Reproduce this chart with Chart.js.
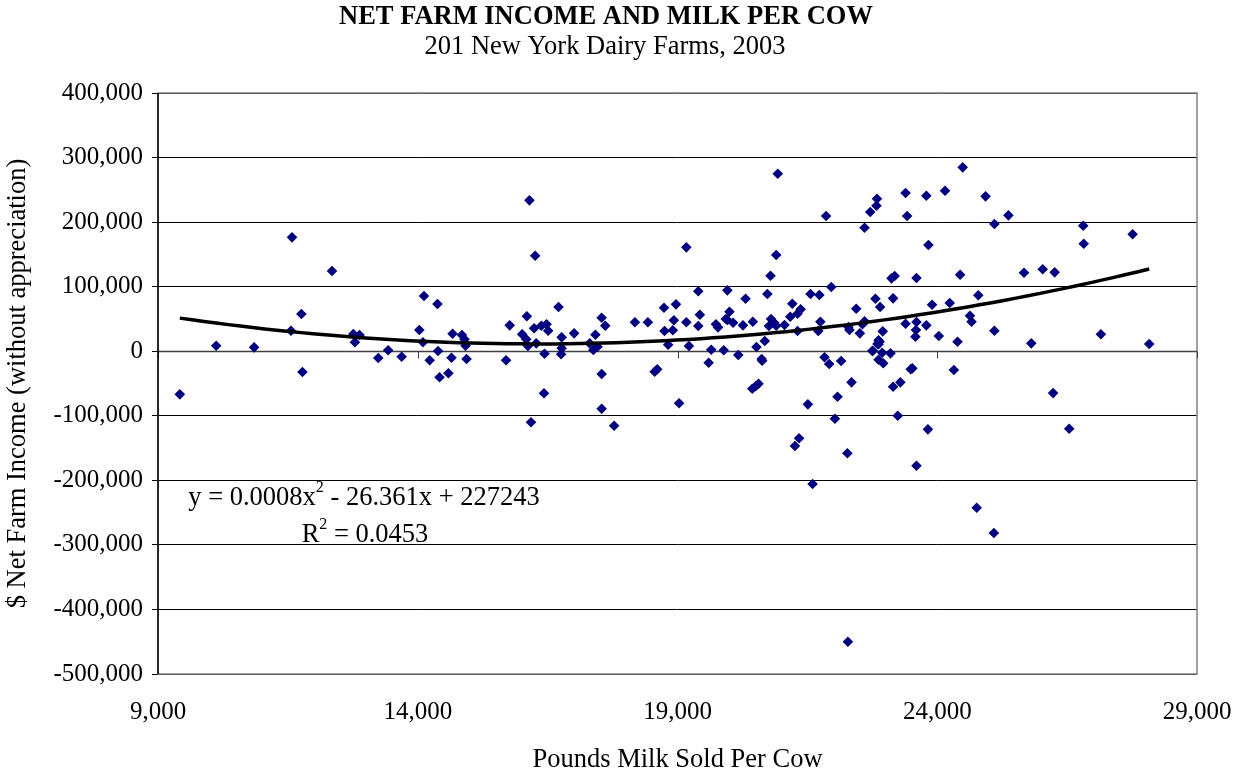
<!DOCTYPE html>
<html><head><meta charset="utf-8">
<script src="https://cdn.jsdelivr.net/npm/chart.js@4.4.0/dist/chart.umd.min.js"></script>
<style>html,body{margin:0;padding:0;background:#fff;}#wrap{width:1238px;height:776px;position:relative;}</style>
</head><body><div id="wrap"><canvas id="c" width="1238" height="776"></canvas></div>
<script>
const chartTitle = "NET FARM INCOME AND MILK PER COW";
const chartSubtitle = "201 New York Dairy Farms, 2003";
const xAxisTitle = "Pounds Milk Sold Per Cow";
const yAxisTitle = "$ Net Farm Income (without appreciation)";
const xTickValues = [9000, 14000, 19000, 24000, 29000];
const yTickValues = [-500000, -400000, -300000, -200000, -100000, 0, 100000, 200000, 300000, 400000];
const equationParts = [["y = 0.0008x", false], ["2", true], [" - 26.361x + 227243", false]];
const rSquaredParts = [["R", false], ["2", true], [" = 0.0453", false]];
// polynomial trendline coefficients (c0 + c1*x + c2*x^2)
const trendCoefficients = [234970, -27.41, 0.0008397];

const milkPerCow = [
 9420,10120,10850,11580,11560,11760,11780,12350,12760,12880,12790,13240,13430,13690,
 16150,16260,14120,14380,16710,14030,14100,14670,14850,14900,14920,15770,16100,16010,16090,16120,
 16240,16380,16480,16510,16280,16440,16770,16770,16760,17010,17420,17310,17380,17460,17540,17610,
 18180,18430,18740,18970,18750,18910,18930,18820,14230,14390,14650,14940,15700,14420,14590,17540,
 18560,18610,16430,17540,16180,17780,19030,
 20930,23390,23790,22840,22830,22710,21860,23420,22600,19170,20900,23830,20790,23120,23180,23600,
 21960,19400,19960,20310,20730,21560,21730,19430,19170,19400,20000,19930,19960,20070,19740,19780,
 20260,20450,20800,20860,20760,20900,21060,21210,21370,21310,21170,21310,21750,21710,22440,22290,
 22310,22600,22560,22510,22810,22900,23150,22950,22870,22850,22760,23390,23600,23590,23580,23790,
 23900,24030,19220,19650,19890,20170,20520,20680,19600,20620,20630,20440,20510,20560,21830,21920,
 22150,22350,22080,21510,22030,21340,21260,22270,21600,22750,22870,22890,22940,23100,22870,22960,
 23490,23520,23150,23290,23240,23820,23600,22280,
 24490,24150,24930,25100,25370,26810,26820,27760,24440,25670,26030,26260,24790,24240,24630,24660,
 24390,25100,25810,27150,28080,24320,26230,26540,24760,25090
];
const netFarmIncome = [
 -66800,8500,6000,176400,31800,57600,-32200,124200,26600,25100,13800,-10500,1400,-8500,
 233700,147900,85500,73100,68500,32800,13800,27100,25100,18400,8500,40100,54100,26200,18400,8100,
 35500,39500,41700,31800,12200,-3900,21500,4500,-4800,27700,25600,12200,1900,7000,51900,39500,
 44800,44800,67400,72600,31300,32400,47900,10100,-14100,300,-10100,-12100,-14100,-40400,-34200,-35300,
 -31700,-28000,-65000,-89100,-110100,-115400,-80700,
 275000,245000,240900,236200,225400,215600,209400,209400,191300,160900,149000,164500,116900,112900,116500,113400,
 99400,92800,94300,81300,88600,88600,87100,56500,44800,39000,61200,49900,48300,44100,41700,37000,
 40100,45700,49900,44100,39000,39500,40600,73600,64900,58100,53400,31300,45700,31300,65800,37500,
 32800,46300,41700,27700,81300,68500,81900,30800,16900,11200,800,42600,45200,32800,22500,40100,
 72000,23500,8100,2300,1400,-5900,6500,15800,-17800,-12100,-14700,-58100,-53900,-50300,-9400,-19800,
 -15200,-48200,-70500,-82300,-104600,-134900,-146800,-158100,-205700,300,10700,14700,-2300,-3300,-13200,-18700,
 -28000,-26500,-55000,-48200,-99900,-121000,-177400,-450000,
 284800,248600,239900,197000,210500,194400,166500,181100,118500,121600,126900,122200,86600,74700,55000,45700,
 14700,31800,12200,26200,11200,-29100,-64900,-120000,-242400,-281600
];

const xMin = Math.min(...milkPerCow), xMax = Math.max(...milkPerCow);
const trendPoints = [];
for (let i = 0; i <= 80; i++) {
  const x = xMin + (xMax - xMin) * i / 80;
  trendPoints.push({x: x, y: trendCoefficients[0] + trendCoefficients[1] * x + trendCoefficients[2] * x * x});
}
const scatterPoints = milkPerCow.map((x, i) => ({x: x, y: netFarmIncome[i]}));

const FONT = "'Liberation Serif', 'Times New Roman', serif";
const fmt = v => v.toLocaleString('en-US');

function drawParts(ctx, parts, cx, cy, size) {
  const supSize = Math.round(size * 0.62);
  let w = 0;
  parts.forEach(([t, sup]) => { ctx.font = (sup ? supSize : size) + "px " + FONT; w += ctx.measureText(t).width; });
  let x = cx - w / 2;
  parts.forEach(([t, sup]) => {
    ctx.font = (sup ? supSize : size) + "px " + FONT;
    ctx.fillText(t, x, sup ? cy - size * 0.38 : cy);
    x += ctx.measureText(t).width;
  });
}

const decor = {
  id: 'decor',
  beforeDatasetsDraw(chart) {
    const {ctx, chartArea: a, scales} = chart;
    ctx.save();
    ctx.strokeStyle = '#808080'; ctx.lineWidth = 1.5;
    ctx.strokeRect(a.left, a.top, a.right - a.left, a.bottom - a.top);
    const y0 = Math.round(scales.y.getPixelForValue(0)) + 0.5;
    ctx.strokeStyle = '#404040'; ctx.lineWidth = 1.5;
    ctx.beginPath(); ctx.moveTo(a.left, y0); ctx.lineTo(a.right, y0); ctx.stroke();
    ctx.lineWidth = 1;
    xTickValues.forEach(v => {
      const px = Math.round(scales.x.getPixelForValue(v)) + 0.5;
      ctx.beginPath(); ctx.moveTo(px, y0); ctx.lineTo(px, y0 + 7); ctx.stroke();
    });
    ctx.strokeStyle = '#000'; ctx.lineWidth = 1.5;
    ctx.beginPath(); ctx.moveTo(a.left, a.top); ctx.lineTo(a.left, a.bottom); ctx.stroke();
    ctx.restore();
  },
  afterDraw(chart) {
    const {ctx} = chart;
    ctx.save();
    ctx.fillStyle = '#000';
    ctx.textAlign = 'center'; ctx.textBaseline = 'middle';
    ctx.font = "bold 26.5px " + FONT;
    ctx.fillText(chartTitle, 606, 17);
    ctx.font = "26.5px " + FONT;
    ctx.fillText(chartSubtitle, 605, 47);
    ctx.textAlign = 'left';
    drawParts(ctx, equationParts, 364, 498, 26.5);
    drawParts(ctx, rSquaredParts, 365, 535, 26.5);
    ctx.restore();
  }
};

new Chart(document.getElementById('c'), {
  type: 'scatter',
  data: {
    datasets: [
      {type: 'line', label: 'Trend', data: trendPoints, borderColor: '#000', borderWidth: 3.5,
       pointRadius: 0, fill: false, tension: 0, order: 0},
      {label: 'Farms', data: scatterPoints, pointStyle: 'rectRot', pointRadius: 5.3,
       backgroundColor: '#000080', borderWidth: 0, order: 1}
    ]
  },
  options: {
    responsive: false, animation: false, devicePixelRatio: 1,
    layout: {padding: {top: 93, right: 41, bottom: 0, left: 0}},
    plugins: {legend: {display: false}, tooltip: {enabled: false}, title: {display: false}},
    scales: {
      x: {
        type: 'linear', min: 9000, max: 29000,
        afterBuildTicks: s => { s.ticks = xTickValues.map(v => ({value: v})); },
        afterFit: s => { s.height = 102; s.paddingLeft = 0; s.paddingRight = 0; },
        grid: {display: false, drawTicks: false},
        border: {display: false},
        ticks: {padding: 23, color: '#000', font: {family: FONT, size: 25}, callback: v => fmt(v), maxRotation: 0},
        title: {display: true, text: xAxisTitle, color: '#000', font: {family: FONT, size: 26.5}, padding: {top: 0, bottom: 0}}
      },
      y: {
        type: 'linear', min: -500000, max: 400000,
        afterBuildTicks: s => { s.ticks = yTickValues.map(v => ({value: v})); },
        afterFit: s => { s.width = 158; s.paddingTop = 0; s.paddingBottom = 0; },
        grid: {color: '#000', lineWidth: 1, drawTicks: true, tickLength: 6, tickColor: '#000'},
        border: {display: false},
        ticks: {padding: 9, color: '#000', font: {family: FONT, size: 25}, callback: v => fmt(v)},
        title: {display: true, text: yAxisTitle, color: '#000', font: {family: FONT, size: 26.5}, padding: {top: 2, bottom: 0}}
      }
    }
  },
  plugins: [decor]
});
</script></body></html>
